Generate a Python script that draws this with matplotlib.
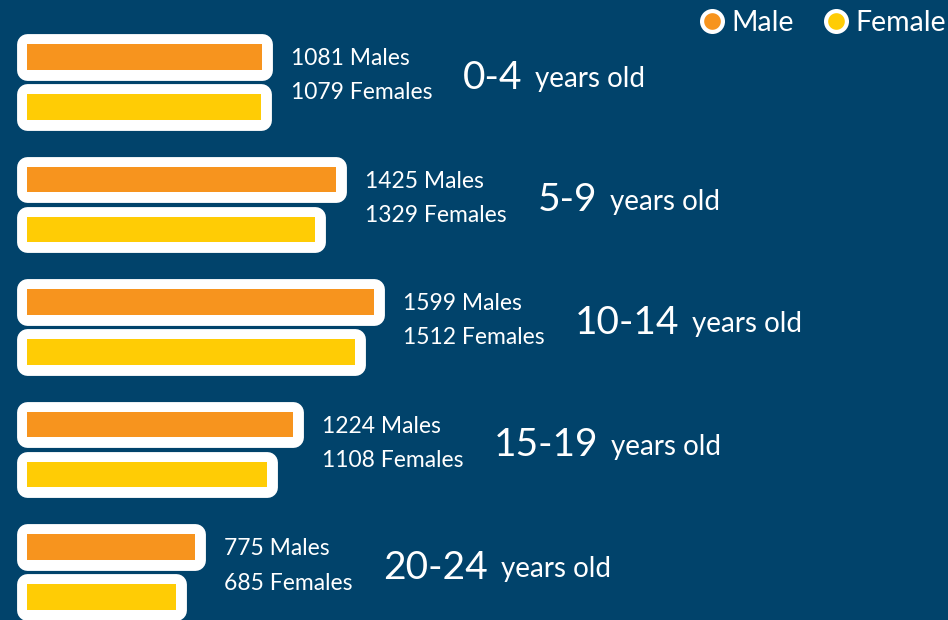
import matplotlib.pyplot as plt
from matplotlib.lines import Line2D
import numpy as np

plt.rcParams['font.family'] = ['Lato', 'DejaVu Sans']

age_groups = ["0-4", "5-9", "10-14", "15-19", "20-24"]
males = [1081, 1425, 1599, 1224, 775]
females = [1079, 1329, 1512, 1108, 685]

BG = "#01436B"
ORANGE = "#F7941E"
YELLOW = "#FFCC05"

fig = plt.figure(figsize=(9.48, 6.2), dpi=100, facecolor=BG)
ax = fig.add_axes([0, 0, 1, 1], facecolor=BG)

y = np.arange(len(age_groups))
off = 0.204
h = 0.21

# white hand-drawn-ish outline, then the coloured fill on top
for vals, pos in [(males, y - off), (females, y + off)]:
    outline = ax.barh(pos, vals, height=h, color="white", edgecolor="white",
                      linewidth=15, zorder=1)
    for b in outline:
        b.set_joinstyle("round")
ax.barh(y - off, males, height=h, color=ORANGE, zorder=2)
ax.barh(y + off, females, height=h, color=YELLOW, zorder=2)

for i, grp in enumerate(age_groups):
    xend = max(males[i], females[i])
    ax.annotate(f"{males[i]} Males", xy=(xend, i - 0.19), xytext=(21, 0),
                textcoords="offset points", color="white", fontsize=16.5,
                va="center", ha="left")
    ft = ax.annotate(f"{females[i]} Females", xy=(xend, i + 0.09), xytext=(21, 0),
                     textcoords="offset points", color="white", fontsize=16.5,
                     va="center", ha="left")
    at = ax.annotate(grp, xy=(1, 0.5), xycoords=ft, xytext=(22, 11),
                     textcoords="offset points", color="white", fontsize=28,
                     va="center", ha="left")
    ax.annotate("years old", xy=(1, 0), xycoords=at, xytext=(9, 2.5),
                textcoords="offset points", color="white", fontsize=20,
                va="bottom", ha="left")

ax.set_xlim(-124, 4244)
ax.set_ylim(4.392, -0.669)
ax.axis("off")

handles = [
    Line2D([], [], marker="o", linestyle="none", markersize=15,
           markerfacecolor=ORANGE, markeredgecolor="white", markeredgewidth=3),
    Line2D([], [], marker="o", linestyle="none", markersize=15,
           markerfacecolor=YELLOW, markeredgecolor="white", markeredgewidth=3),
]
leg = fig.legend(handles, ["Male", "Female"], loc="upper right",
                 bbox_to_anchor=(1.025, 1.025), ncol=2, frameon=False,
                 fontsize=20.5, labelcolor="white", handletextpad=0.1,
                 columnspacing=0.85, handlelength=1.2)

fig.savefig("out.png", dpi=100, facecolor=BG)
